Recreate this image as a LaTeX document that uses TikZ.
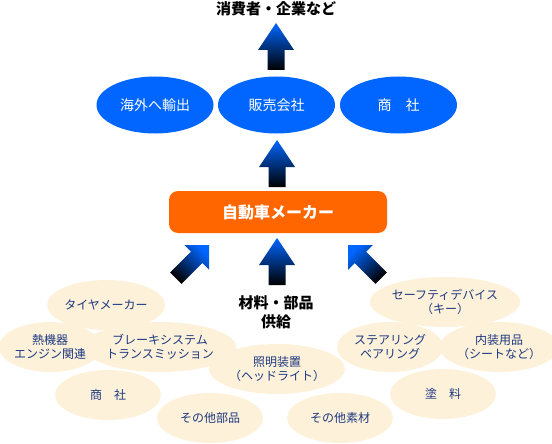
\documentclass[tikz,border=0pt]{standalone}
\usepackage{fontspec}
\setmainfont{Noto Sans CJK JP}
\usetikzlibrary{shapes.geometric}

\definecolor{salesblue}{RGB}{0,102,255}
\definecolor{makerorange}{RGB}{255,102,0}
\definecolor{partbeige}{RGB}{253,241,218}
\definecolor{partnavy}{RGB}{28,56,128}

\tikzset{
  sales/.style={ellipse, fill=salesblue, text=white, minimum width=117pt,
    minimum height=57pt, inner sep=0pt, font=\fontsize{14}{16}\selectfont},
  part/.style={ellipse, fill=partbeige, text=partnavy, minimum width=106pt,
    minimum height=50pt, inner sep=0pt, align=center,
    font=\fontsize{12}{13.5}\selectfont},
  pics/uparrow/.style={code={
    \path[top color=salesblue, bottom color=black, shading angle=#1]
      (0,0) -- (18,27) -- (8.5,27) -- (8.5,47) -- (-8.5,47) -- (-8.5,27)
      -- (-18,27) -- cycle;}},
  pics/slantarrow/.style={code={
    \path[top color=salesblue, bottom color=black, shading angle=#1]
      (0,0) -- (17.5,17.5) -- (8,17.5) -- (8,47) -- (-8,47) -- (-8,17.5)
      -- (-17.5,17.5) -- cycle;}}
}

\begin{document}
\begin{tikzpicture}[x=1pt, y=-1pt]
  \useasboundingbox (0,0) rectangle (552,444);

  % consumers and sales
  \node (consumer) at (276,9) {\fontsize{15}{17}\selectfont\bfseries 消費者・企業など};
  \pic at (276,23) {uparrow=0};
  \node[sales] (export) at (155,105) {海外へ輸出};
  \node[sales] (dealer) at (276.5,105) {販売会社};
  \node[sales] (trader) at (398.5,105) {商　社};
  \pic at (277,140) {uparrow=0};

  % maker
  \node[fill=makerorange, rounded corners=9pt, minimum width=218pt,
    minimum height=42pt, text=white, font=\fontsize{16}{18}\selectfont\bfseries]
    (maker) at (278,212) {自動車メーカー};

  % supply arrows
  \pic[rotate=-45] at (209,245) {slantarrow=-45};
  \pic at (277,238) {uparrow=0};
  \pic[rotate=45] at (348,245) {slantarrow=45};
  \node[align=center, font=\fontsize{15}{19}\selectfont\bfseries]
    (supply) at (276,312) {材料・部品\\供給};

  % parts, left side
  \node[part] (tire) at (106,305) {タイヤメーカー};
  \node[part, minimum width=102pt] (engine) at (50,347) {熱機器\\エンジン関連};
  \node[part] (brake) at (160,347) {ブレーキシステム\\トランスミッション};
  \node[part] (shosha) at (108,395) {商　社};
  \node[part] (otherpart) at (210,418) {その他部品};
  \node[part] (light) at (277,369) {照明装置\\（ヘッドライト）};

  % parts, right side
  \node[part] (safety) at (445,302) {セーフティデバイス\\（キー）};
  \node[part] (steer) at (390,347) {ステアリング\\ベアリング};
  \node[part] (interior) at (499,347) {内装用品\\（シートなど）};
  \node[part] (paint) at (443,394) {塗　料};
  \node[part] (othermat) at (340,418) {その他素材};
\end{tikzpicture}
\end{document}
